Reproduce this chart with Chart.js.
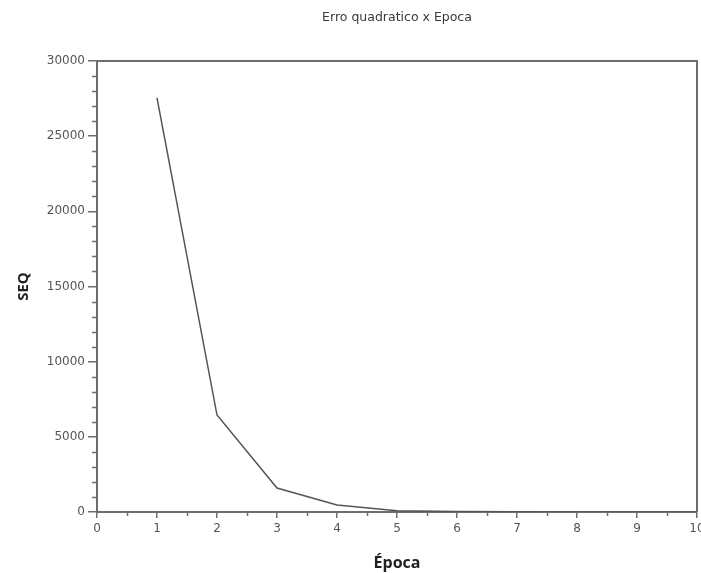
<!DOCTYPE html>
<html>
<head>
<meta charset="utf-8">
<script src="https://cdn.jsdelivr.net/npm/chart.js@4/dist/chart.umd.min.js"></script>
<style>
  body { margin: 0; background: #fff; overflow: hidden; }
</style>
</head>
<body>
<canvas id="seqChart" width="701" height="573"></canvas>
<script>
// chart data
const epocas = [1, 2, 3, 4, 5, 6, 7, 8, 9, 10];
const seq = [27550, 6450, 1590, 470, 80, 25, 12, 8, 5, 3];
const xTicks = [0, 1, 2, 3, 4, 5, 6, 7, 8, 9, 10];
const yTicks = [0, 5000, 10000, 15000, 20000, 25000, 30000];

const axisColor = '#6e6e6e';
const labelColor = '#555';

// box around plot + minor ticks
const frameAndMinor = {
    id: 'frameAndMinor',
    afterDraw(chart) {
        const ctx = chart.ctx;
        const area = chart.chartArea;
        const x = chart.scales.x;
        const y = chart.scales.y;
        ctx.save();
        ctx.strokeStyle = axisColor;
        ctx.lineWidth = 2;
        ctx.beginPath();
        ctx.moveTo(area.left, area.top);
        ctx.lineTo(area.right, area.top);
        ctx.lineTo(area.right, area.bottom);
        ctx.stroke();

        ctx.lineWidth = 1.5;
        ctx.beginPath();
        for (let v = 1000; v < 30000; v += 1000) {
            if (v % 5000 === 0) continue;
            const py = Math.round(y.getPixelForValue(v)) + 0.5;
            ctx.moveTo(area.left - 5, py);
            ctx.lineTo(area.left, py);
        }
        for (let v = 0.5; v < 10; v += 1) {
            const px = Math.round(x.getPixelForValue(v)) + 0.5;
            ctx.moveTo(px, area.bottom);
            ctx.lineTo(px, area.bottom + 4);
        }
        ctx.stroke();
        ctx.restore();
    }
};

const ctx = document.getElementById('seqChart').getContext('2d');
const seqChart = new Chart(ctx, {
    type: 'line',
    data: {
        datasets: [{
            label: 'SEQ',
            data: epocas.map((e, i) => ({ x: e, y: seq[i] })),
            borderColor: '#555',
            borderWidth: 1.5,
            pointRadius: 0,
            tension: 0,
            fill: false
        }]
    },
    options: {
        responsive: false,
        animation: false,
        layout: { padding: { left: 0, right: 4, top: 0, bottom: 0 } },
        plugins: {
            legend: { display: false },
            tooltip: { enabled: false },
            title: {
                display: true,
                text: 'Erro quadratico x Epoca',
                color: '#3a3a3a',
                fullSize: false,
                font: { family: 'DejaVu Sans', size: 12.5, weight: 'normal' },
                padding: { top: 10, bottom: 36 }
            }
        },
        scales: {
            x: {
                type: 'linear',
                min: 0,
                max: 10,
                afterBuildTicks: s => { s.ticks = xTicks.map(v => ({ value: v })); },
                afterFit: s => { s.height = 61; s.paddingLeft = 0; s.paddingRight = 0; },
                grid: { drawOnChartArea: false, drawTicks: true, tickLength: 6, color: axisColor, lineWidth: 1.5 },
                border: { display: true, color: axisColor, width: 2 },
                ticks: { color: labelColor, padding: 4, maxRotation: 0, callback: v => String(v), font: { family: 'DejaVu Sans', size: 12 } },
                title: {
                    display: true,
                    text: 'Época',
                    color: '#222',
                    font: { family: 'Open Sans', size: 16, weight: 'bold' },
                    padding: { top: 0, bottom: 0 }
                }
            },
            y: {
                min: 0,
                max: 30000,
                afterBuildTicks: s => { s.ticks = yTicks.map(v => ({ value: v })); },
                afterFit: s => { s.width = 97; s.paddingTop = 0; s.paddingBottom = 0; },
                grid: { drawOnChartArea: false, drawTicks: true, tickLength: 9, color: axisColor, lineWidth: 1.5 },
                border: { display: true, color: axisColor, width: 2 },
                ticks: { color: labelColor, padding: 3, callback: v => String(v), font: { family: 'DejaVu Sans', size: 12 } },
                title: {
                    display: true,
                    text: 'SEQ',
                    color: '#222',
                    font: { family: 'Open Sans', size: 15, weight: 'bold' },
                    padding: { top: 15, bottom: 0 }
                }
            }
        }
    },
    plugins: [frameAndMinor]
});
</script>
</body>
</html>
